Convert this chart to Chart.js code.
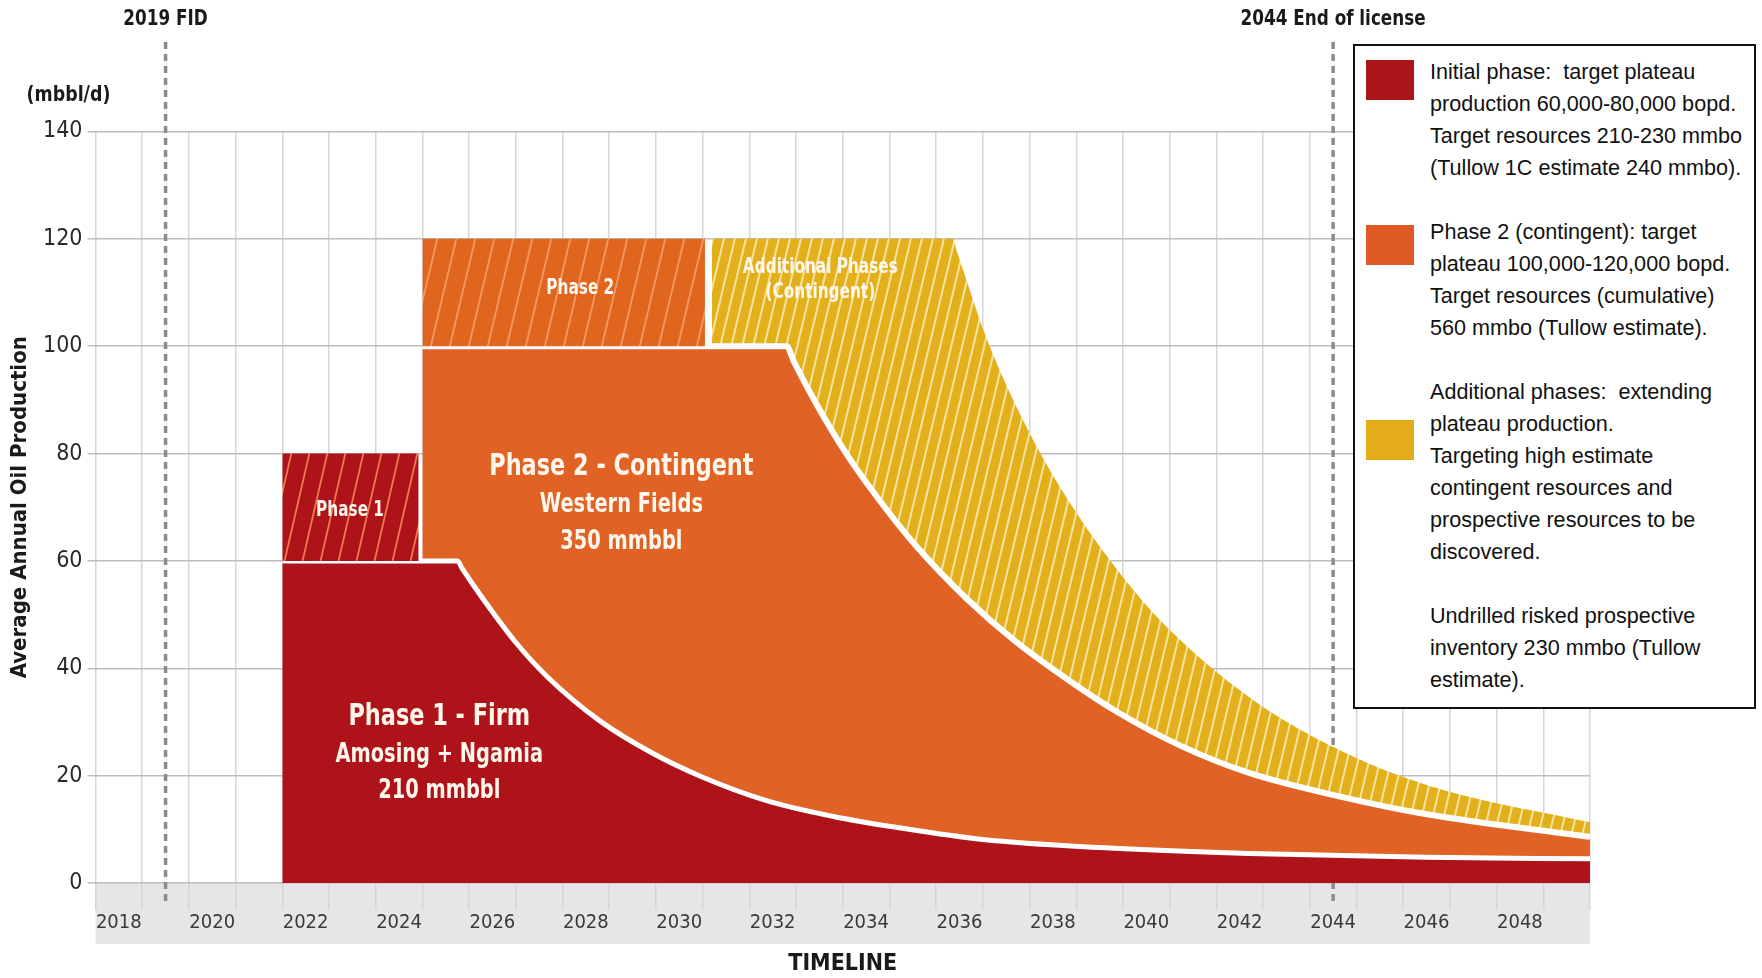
<!DOCTYPE html>
<html lang="en">
<head>
  <meta charset="UTF-8">
  <title>Average Annual Oil Production Timeline</title>
  <script src="https://cdn.jsdelivr.net/npm/chart.js"></script>
  <style>
    body { margin: 0; background: #fff; }
    #wrap { position: relative; width: 1762px; height: 978px; }
    #legendBox {
      position: absolute; left: 1353px; top: 44px; width: 399px; height: 661px;
      border: 2px solid #111; background: #fff;
      font-family: "Liberation Sans", Arial, sans-serif; font-size: 21.6px; color: #111;
    }
    #legendBox .text { position: absolute; left: 75px; top: 10px; line-height: 32px; white-space: pre; }
    .swatch { position: absolute; left: 11px; width: 48px; height: 40px; }
  </style>
</head>
<body>
  <div id="wrap">
    <canvas id="chart" width="1762" height="978"></canvas>
    <div id="legendBox">
      <div class="swatch" style="top:14px;background:#A91519"></div>
      <div class="swatch" style="top:179px;background:#E05A26"></div>
      <div class="swatch" style="top:374px;background:#E4AC1B"></div>
      <div class="text">Initial phase:  target plateau
production 60,000-80,000 bopd.
Target resources 210-230 mmbo
(Tullow 1C estimate 240 mmbo).

Phase 2 (contingent): target
plateau 100,000-120,000 bopd.
Target resources (cumulative)
560 mmbo (Tullow estimate).

Additional phases:  extending
plateau production.
Targeting high estimate
contingent resources and
prospective resources to be
discovered.

Undrilled risked prospective
inventory 230 mmbo (Tullow
estimate).</div>
    </div>
  </div>
  <script>
    // values (mbbl/d, top edge of each band)
    const firmYears = [2021.5, 2025.25, 2025.35, 2025.8, 2026.5, 2027.2, 2028.3, 2029.4, 2030.45, 2031.85, 2033.3, 2034.7, 2036.5, 2039, 2042.2, 2046, 2049.5];
    const firmValues = [60, 60, 58.6, 52.9, 44.8, 38.2, 30.2, 24.3, 19.9, 15.4, 12.4, 10.3, 8.1, 6.6, 5.5, 4.8, 4.5];

    const contingentYears = [2024.5, 2032.3, 2032.45, 2032.95, 2033.65, 2034.4, 2035.1, 2036.15, 2037.2, 2038.3, 2039.35, 2040.75, 2042.2, 2044.2, 2046, 2049.5];
    const contingentValues = [100, 100, 97.2, 89, 79, 70, 62.5, 53, 45, 38, 32, 25.5, 20.5, 16, 12.8, 8.6];

    const additionalYears = [2030.7, 2035.85, 2035.95, 2036.6, 2037.55, 2038.5, 2039.45, 2040.4, 2042.3, 2044.2, 2046.1, 2049.5];
    const additionalValues = [120, 120, 117.5, 101, 83, 69, 57.5, 48, 34, 24.5, 18, 11.3];

    const phase1TargetYears = [2021.5, 2024.42];
    const phase1TargetRange = [60, 80];
    const phase2TargetYears = [2024.5, 2030.55];
    const phase2TargetRange = [100, 120];

    const markerYears = [2019, 2044];
    const markerLabels = ['2019 FID', '2044 End of license'];
    const yearLabels = [2018, 2020, 2022, 2024, 2026, 2028, 2030, 2032, 2034, 2036, 2038, 2040, 2042, 2044, 2046, 2048];

    const areaLabels = [
      ['Phase 1', 2022.95, 69.3, 20.5],
      ['Phase 2', 2027.88, 110.8, 20.5],
      ['Additional Phases', 2033.02, 114.7, 20.5],
      ['(Contingent)', 2033.02, 110.0, 20.5],
      ['Phase 2 - Contingent', 2028.76, 77.5, 30],
      ['Western Fields', 2028.76, 70.4, 26],
      ['350 mmbbl', 2028.76, 63.5, 26],
      ['Phase 1 - Firm', 2024.86, 30.9, 30],
      ['Amosing + Ngamia', 2024.86, 23.8, 26],
      ['210 mmbbl', 2024.86, 17.1, 26]
    ];

    const NARROW = '"Liberation Sans Narrow", "DejaVu Sans Condensed", "Roboto Condensed", "Liberation Sans", sans-serif';
    const RED = '#AD1319', ORANGE = '#E06225', YELLOW = '#E1B01B';

    const toPoints = (xs, ys) => xs.map((x, i) => ({ x, y: ys[i] }));

    function hatch(bg, line, w, h, lw) {
      const c = document.createElement('canvas');
      c.width = w; c.height = h;
      const g = c.getContext('2d');
      g.fillStyle = bg;
      g.fillRect(0, 0, w, h);
      g.strokeStyle = line;
      g.lineWidth = lw;
      for (let k = -1; k <= 1; k++) {
        g.beginPath();
        g.moveTo(k * w, h);
        g.lineTo(k * w + w, 0);
        g.stroke();
      }
      return g.createPattern(c, 'repeat');
    }

    // squeezed text, to get near the condensed face of the original
    function narrowText(ctx, text, x, y, size, sx) {
      ctx.save();
      ctx.translate(x, y);
      ctx.scale(sx, 1);
      ctx.font = 'bold ' + size + 'px ' + NARROW;
      ctx.textAlign = 'center';
      ctx.textBaseline = 'middle';
      ctx.fillText(text, 0, 0);
      ctx.restore();
    }

    const decorations = {
      id: 'decorations',
      beforeDraw(chart) {
        const { ctx, chartArea: a } = chart;
        ctx.save();
        ctx.fillStyle = '#E6E6E6';
        ctx.fillRect(a.left, a.bottom, a.right - a.left, 61);
        ctx.restore();
      },
      beforeDatasetsDraw(chart) {
        const { ctx, scales: { x } } = chart;
        ctx.save();
        markerYears.forEach((yr, i) => {
          const px = x.getPixelForValue(yr);
          ctx.strokeStyle = '#8B8B8B';
          ctx.lineWidth = 3.5;
          ctx.setLineDash([7, 5]);
          ctx.beginPath();
          ctx.moveTo(px, 42);
          ctx.lineTo(px, 906);
          ctx.stroke();
          ctx.setLineDash([]);
          ctx.fillStyle = '#1a1a1a';
          narrowText(ctx, markerLabels[i], px, 19, 22, 0.85);
        });
        ctx.restore();
      },
      afterDatasetsDraw(chart) {
        const { ctx, scales: { x, y } } = chart;
        ctx.save();
        ctx.fillStyle = '#FFF6EC';
        areaLabels.forEach(([text, xv, yv, size]) => {
          narrowText(ctx, text, x.getPixelForValue(xv), y.getPixelForValue(yv), size, 0.83);
        });
        ctx.fillStyle = '#1a1a1a';
        narrowText(ctx, '(mbbl/d)', chart.chartArea.left - 27, y.getPixelForValue(140) - 36, 22, 0.88);
        ctx.restore();
      }
    };

    const ctx = document.getElementById('chart').getContext('2d');

    const chart = new Chart(ctx, {
      type: 'line',
      data: {
        datasets: [
          {
            label: 'Phase 1',
            data: toPoints(phase1TargetYears, phase1TargetYears.map(() => phase1TargetRange[1])),
            fill: { value: phase1TargetRange[0] },
            backgroundColor: hatch(RED, '#EF7A52', 18, 78, 1.8),
            borderColor: 'transparent',
            borderWidth: 0,
            pointRadius: 0,
            order: 0
          },
          {
            label: 'Phase 2',
            data: toPoints(phase2TargetYears, phase2TargetYears.map(() => phase2TargetRange[1])),
            fill: { value: phase2TargetRange[0] },
            backgroundColor: hatch('#E0661F', '#F29862', 19, 80, 1.8),
            borderColor: 'transparent',
            borderWidth: 0,
            pointRadius: 0,
            order: 1
          },
          {
            label: 'Phase 1 - Firm',
            data: toPoints(firmYears, firmValues),
            fill: 'origin',
            backgroundColor: RED,
            borderColor: '#FFFFFF',
            borderWidth: 5,
            borderJoinStyle: 'round',
            cubicInterpolationMode: 'monotone',
            pointRadius: 0,
            order: 2
          },
          {
            label: 'Phase 2 - Contingent',
            data: toPoints(contingentYears, contingentValues),
            fill: 'origin',
            backgroundColor: ORANGE,
            borderColor: '#FFFFFF',
            borderWidth: 6,
            borderJoinStyle: 'round',
            cubicInterpolationMode: 'monotone',
            pointRadius: 0,
            order: 3
          },
          {
            label: 'Additional Phases',
            data: toPoints(additionalYears, additionalValues),
            fill: 'origin',
            backgroundColor: hatch(YELLOW, '#F8E2A2', 11, 46, 2),
            borderColor: 'transparent',
            borderWidth: 0,
            cubicInterpolationMode: 'monotone',
            pointRadius: 0,
            order: 4
          }
        ]
      },
      options: {
        responsive: false,
        animation: false,
        layout: { padding: { top: 131.5, right: 172, bottom: 0, left: 0 } },
        plugins: {
          legend: { display: false },
          tooltip: { enabled: false }
        },
        scales: {
          x: {
            type: 'linear',
            min: 2017.5,
            max: 2049.5,
            afterFit: (s) => { s.height = 95; },
            border: { display: false },
            grid: { color: '#D6D6D6', lineWidth: 1.5, tickLength: 27 },
            ticks: {
              stepSize: 1,
              autoSkip: false,
              maxRotation: 0,
              labelOffset: 23.3,
              padding: 1,
              color: '#3a3a3a',
              font: { family: NARROW, size: 20 },
              callback: (v) => yearLabels.includes(v + 0.5) ? String(v + 0.5) : ''
            },
            title: {
              display: true,
              text: 'TIMELINE',
              color: '#1a1a1a',
              font: { family: NARROW, size: 23, weight: 'bold' },
              padding: { top: 0, bottom: 0 }
            }
          },
          y: {
            min: 0,
            max: 140,
            afterFit: (s) => { s.width = 95.5; },
            border: { display: false },
            grid: { color: '#BDBDBD', lineWidth: 1.5, tickLength: 8 },
            ticks: {
              stepSize: 20,
              padding: 5,
              color: '#2a2a2a',
              font: { family: NARROW, size: 23 }
            },
            title: {
              display: true,
              text: 'Average Annual Oil Production',
              color: '#1a1a1a',
              font: { family: NARROW, size: 22, weight: 'bold' },
              padding: { top: 7, bottom: 0 }
            }
          }
        }
      },
      plugins: [decorations]
    });
  </script>
</body>
</html>
